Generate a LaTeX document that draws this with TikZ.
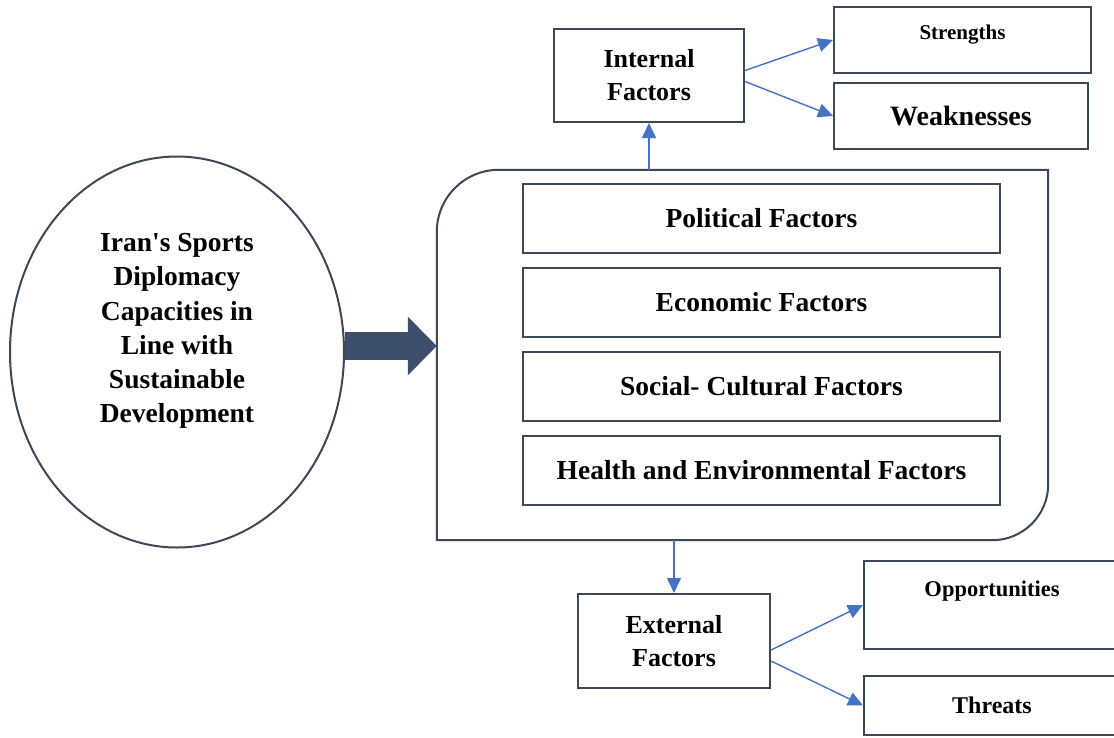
\documentclass[tikz,border=0pt]{standalone}
\usepackage{fontspec}
\setmainfont{Liberation Serif}
\usepackage{tikz}
\usetikzlibrary{arrows.meta, positioning, shapes.geometric, calc}

\definecolor{framegray}{HTML}{3F4757}
\definecolor{flowblue}{HTML}{4472C4}
\definecolor{slateblue}{HTML}{3D4F6D}

\begin{document}
\begin{tikzpicture}[
    x=1pt, y=-1pt,
    every node/.style={font=\bfseries, text=black, inner sep=0pt},
    frame/.style={draw=framegray, line width=2pt, rectangle},
    factor/.style={frame, minimum width=477pt, minimum height=69pt,
      font=\bfseries\fontsize{27.5}{33}\selectfont},
    swot/.style={frame, align=center},
    flow/.style={draw=flowblue, line width=1.4pt, -{Triangle[length=15pt, width=14pt]}},
    fat/.style={draw=slateblue, line width=28pt, -{Triangle[length=29pt, width=57pt]}}
  ]
  \fill[white] (0,0) rectangle (1114,737);
  \useasboundingbox (0,0) rectangle (1114,737);

  % the capacities ellipse on the left
  \node[ellipse, draw=framegray, line width=2pt, minimum width=334pt, minimum height=391pt] (capacity) at (177,352) {};
  \node[align=center, font=\bfseries\fontsize{27.5}{34.3}\selectfont] (capacitytext) at ([yshift=21pt]capacity.center)
    {Iran\textquotesingle s Sports\\Diplomacy\\Capacities in\\Line with\\Sustainable\\Development};

  % big panel holding the four factor groups
  \node[minimum width=611pt, minimum height=370pt] (panel) at (742.5,355) {};
  \draw[draw=framegray, line width=2pt] (panel.south west) [rounded corners=62pt] -- (panel.north west)
    [sharp corners] -- (panel.north east) [rounded corners=56pt] -- (panel.south east) [sharp corners] -- cycle;

  \node[factor] (political) at (761.5,218.5) {Political Factors};
  \node[factor, below=13pt of political] (economic) {Economic Factors};
  \node[factor, below=13pt of economic] (social) {Social- Cultural Factors};
  \node[factor, below=13pt of social] (health) {Health and Environmental Factors};

  % internal side
  \node[swot, minimum width=190pt, minimum height=93pt, font=\bfseries\fontsize{26}{33}\selectfont] (internal) at (649,75.5) {Internal\\Factors};
  \node[swot, minimum width=257pt, minimum height=66pt, text height=14pt, text depth=16pt,
    font=\bfseries\fontsize{21}{25}\selectfont] (strengths) at (962.5,40) {Strengths};
  \node[swot, minimum width=254pt, minimum height=66pt, font=\bfseries\fontsize{28}{33}\selectfont] (weaknesses) at (961,116) {Weaknesses};

  % external side
  \node[swot, minimum width=192pt, minimum height=94pt, font=\bfseries\fontsize{26}{33}\selectfont] (external) at (674,641) {External\\Factors};
  \node[swot, minimum width=256pt, minimum height=88pt, text height=16pt, text depth=34pt,
    font=\bfseries\fontsize{22.5}{27}\selectfont] (opportunities) at (992,605) {Opportunities};
  \node[swot, minimum width=256pt, minimum height=59pt, font=\bfseries\fontsize{24}{29}\selectfont] (threats) at (992,705.5) {Threats};

  % connectors
  \draw[fat] ([yshift=6pt]capacity.east) -- ([yshift=6pt]capacity.east -| panel.west);
  \draw[flow] (internal.south |- panel.north) -- (internal.south);
  \draw[flow] ([yshift=5pt]internal.east) -- (strengths.west);
  \draw[flow] ([yshift=-6pt]internal.east) -- (weaknesses.west);
  \draw[flow] (external.north |- panel.south) -- (external.north);
  \draw[flow] ([yshift=-9pt]external.east) -- (opportunities.west);
  \draw[flow] ([yshift=-20pt]external.east) -- (threats.west);
\end{tikzpicture}
\end{document}
